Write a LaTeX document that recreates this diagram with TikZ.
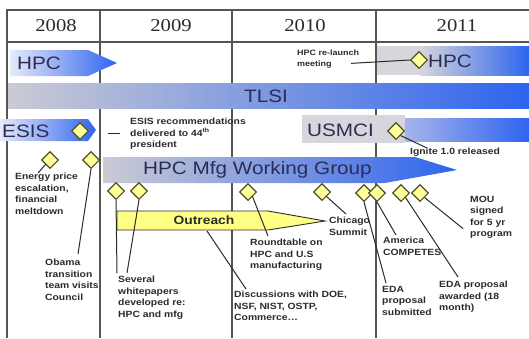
\documentclass[tikz,border=0pt]{standalone}
\usepackage{fontspec}
\usepackage{tikz}
\usetikzlibrary{shapes.geometric,calc}
\newfontfamily\yearfont[FakeStretch=1.15]{Liberation Serif}
\newfontfamily\barfont[FakeStretch=1.15]{Liberation Sans}
\newfontfamily\notefont[FakeStretch=1.15]{Liberation Sans}
\definecolor{ink}    {HTML}{2B2B2B}
\definecolor{gridc}  {HTML}{555555}
\definecolor{barink} {HTML}{2C2C55}
\definecolor{bblue}  {HTML}{2E64EE}
\definecolor{bmid}   {HTML}{A6B4EC}
\definecolor{bgray}  {HTML}{CBCBD4}
\definecolor{bpale}  {HTML}{E6EAFA}
\definecolor{hgray}  {HTML}{D6D6DC}
\definecolor{dfill}  {HTML}{FFFF99}
\definecolor{dline}  {HTML}{4F4F2A}
\definecolor{obfill} {HTML}{FFFF85}
\tikzset{
  yr/.style     = {font=\yearfont\fontsize{18}{18}\selectfont, text=ink},
  barlbl/.style = {font=\barfont\fontsize{18}{18}\selectfont, text=barink, inner sep=0pt},
  note/.style   = {font=\notefont\bfseries\fontsize{9}{11.5}\selectfont, text=ink,
                   align=left, inner sep=0pt, anchor=north west},
  evt/.style    = {diamond, draw=dline, fill=dfill, line width=1.1pt,
                   minimum width=17pt, minimum height=17pt, inner sep=0pt},
  lead/.style   = {draw=ink, line width=1pt},
  grid/.style   = {draw=gridc, line width=1.1pt},
}

\begin{document}
\begin{tikzpicture}[x=1pt,y=-1pt]
  \useasboundingbox (0,0) rectangle (529,338);
  \fill[white] (0,0) rectangle (529,338);

  % year grid
  \draw[grid] (7,338) -- (7,10) -- (529,10);
  \draw[grid] (7,42) -- (529,42);
  \foreach \gx in {100,232,376}
    \draw[grid] (\gx,10) -- (\gx,338);
  \node[yr] (y08) at (56,26)  {2008};
  \node[yr] (y09) at (171,26) {2009};
  \node[yr] (y10) at (305,26) {2010};
  \node[yr] (y11) at (457,26) {2011};

  % bars
  \shade[left color=bpale, right color=bblue]
    (10,50) -- (88,50) -- (117,63) -- (88,76) -- (10,76) -- cycle;
  \node[barlbl, anchor=west] (hpc1) at (17,63) {HPC};
  \fill[hgray] (377,46) rectangle (420,75);
  \shade[left color=hgray, right color=bblue] (420,46) rectangle (529,75);
  \node[barlbl, anchor=west] (hpc2) at (428,61) {HPC};
  \shade[left color=bgray, middle color=bmid, right color=bblue] (8,83) rectangle (529,108);
  \node[barlbl] (tlsi) at (266,96) {TLSI};
  \shade[left color=bpale, right color=bblue]
    (0,119) -- (88,119) -- (96,130) -- (88,141) -- (0,141) -- cycle;
  \node[barlbl, anchor=west] (esis) at (2,131) {ESIS};
  \fill[hgray] (302,115) rectangle (405,143);
  \shade[left color=bmid, right color=bblue] (405,118) rectangle (529,141);
  \node[barlbl, anchor=west] (usmci) at (307,130) {USMCI};
  \shade[left color=bgray, middle color=bmid, right color=bblue]
    (103,157) -- (415,157) -- (457,170) -- (385,183) -- (103,183) -- cycle;
  \node[barlbl, anchor=west] (mfg) at (143,170) {HPC Mfg Working Group};

  % outreach
  \filldraw[fill=obfill, draw=ink, line width=0.9pt]
    (117,211) -- (268,211) -- (325,221) -- (268,230) -- (117,230) -- cycle;
  \node[font=\barfont\bfseries\fontsize{12}{12}\selectfont, text=ink] (outr) at (204,220) {Outreach};
  \coordinate (obar) at (207,231);

  % events
  \node[evt] (hpcd) at (419,60)  {};
  \node[evt] (esisd) at (80,131) {};
  \node[evt] (usd) at (396,131)  {};
  \node[evt] (e1) at (50,160)    {};
  \node[evt] (e2) at (91,160)    {};
  \node[evt] (w1) at (116,191)   {};
  \node[evt] (w2) at (139,191)   {};
  \node[evt] (r1) at (248,192)   {};
  \node[evt] (c1) at (322,192)   {};
  \node[evt] (d1) at (364,193)   {};
  \node[evt] (d2) at (377,193)   {};
  \node[evt] (d3) at (401,193)   {};
  \node[evt] (d4) at (420,193)   {};

  % notes
  \node[note, font=\notefont\bfseries\fontsize{7.8}{11}\selectfont] (rel) at (297,50) {HPC re-launch\\meeting};
  \node[note] (esr) at (130,118) {ESIS recommendations\\delivered to 44\textsuperscript{th}\\president};
  \node[note] (ign) at (410,148) {Ignite 1.0 released};
  \node[note] (enp) at (15,173)  {Energy price\\escalation,\\financial\\meltdown};
  \node[note] (oba) at (45,259)  {Obama\\transition\\team visits\\Council};
  \node[note] (wpp) at (118,276) {Several\\whitepapers\\developed re:\\HPC and mfg};
  \node[note] (rtb) at (250,239) {Roundtable on\\HPC and U.S\\manufacturing};
  \node[note] (dis) at (234,291) {Discussions with DOE,\\NSF, NIST, OSTP,\\Commerce\ldots};
  \node[note] (chi) at (329,217) {Chicago\\Summit};
  \node[note] (amc) at (383,237) {America\\COMPETES};
  \node[note] (eds) at (382,286) {EDA\\proposal\\submitted};
  \node[note] (eda) at (439,281) {EDA proposal\\awarded (18\\month)};
  \node[note] (mou) at (470,196) {MOU\\signed\\for 5 yr\\program};

  % leaders
  \draw[lead] ([xshift=-8pt,yshift=-4pt]rel.east) -- (hpcd.west);
  \draw[lead] ([xshift=-22pt]esr.west) -- ([xshift=-10pt]esr.west);
  \draw[lead] (usd.south east) -- ([xshift=17pt]ign.north west);
  \draw[lead] (e1.south west) -- ([xshift=23pt]enp.north west);
  \draw[lead] (e2.south) -- ([xshift=33pt,yshift=5pt]oba.north west);
  \draw[lead] (w1.south) -- ([xshift=-1pt,yshift=3pt]wpp.north west);
  \draw[lead] (w2.south) -- ([xshift=9pt,yshift=3pt]wpp.north west);
  \draw[lead] (obar) -- ([xshift=12pt,yshift=2pt]dis.north west);
  \draw[lead] (r1.south east) -- ([xshift=18pt,yshift=3pt]rtb.north west);
  \draw[lead] (c1.south east) -- ([xshift=17pt,yshift=3pt]chi.north west);
  \draw[lead] (d1.south) -- ([xshift=4pt,yshift=3pt]eds.north west);
  \draw[lead] (d2.south) -- ([xshift=13pt,yshift=2pt]amc.north west);
  \draw[lead] (d3.south east) -- ([xshift=19pt,yshift=4pt]eda.north west);
  \draw[lead] (d4.south east) -- ([xshift=-7pt,yshift=-11pt]mou.west);
\end{tikzpicture}
\end{document}
